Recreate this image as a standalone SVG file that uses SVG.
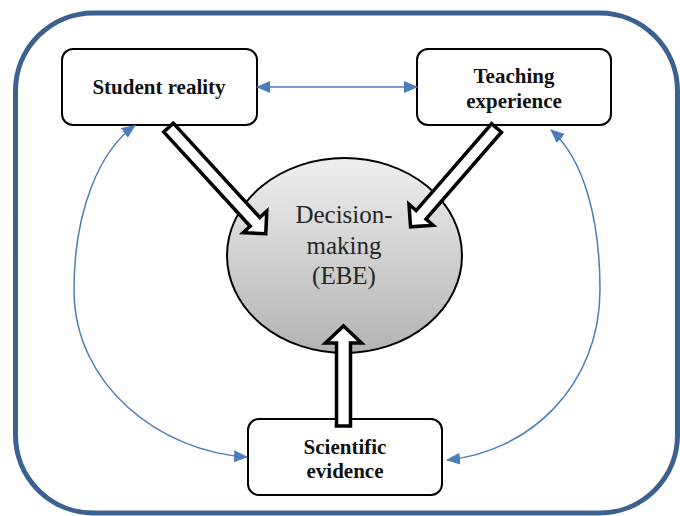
<svg xmlns="http://www.w3.org/2000/svg" width="680" height="516" viewBox="0 0 680 516">
  <style>
    .frame { fill: none; stroke: #3b6190; stroke-width: 5; }
    .box { fill: #ffffff; stroke: #000000; stroke-width: 2; }
    .label { font-family: "Liberation Serif", "Times New Roman", serif; font-weight: bold; font-size: 21px; fill: #111111; text-anchor: middle; }
    .core-label { font-family: "Liberation Serif", "Times New Roman", serif; font-size: 25px; fill: #262626; text-anchor: middle; }
    .link { fill: none; stroke: #4a7ebb; stroke-width: 1.5; }
    .block { fill: #ffffff; stroke: #000000; stroke-width: 3.5; stroke-linejoin: miter; stroke-miterlimit: 10; }
  </style>
  <defs>
    <linearGradient id="coreFill" x1="0" y1="0" x2="0" y2="1">
      <stop offset="0" stop-color="#efefef"/>
      <stop offset="1" stop-color="#b3b3b3"/>
    </linearGradient>
    <marker id="head" viewBox="0 0 14 12" refX="13" refY="6" markerWidth="14" markerHeight="12" markerUnits="userSpaceOnUse" orient="auto-start-reverse">
      <path d="M0,0 L14,6 L0,12 Z" fill="#4a7ebb"/>
    </marker>
  </defs>

  <!-- outer rounded frame -->
  <rect class="frame" x="15.5" y="13" width="662" height="500" rx="78" ry="78"/>

  <!-- central decision node -->
  <g id="decision-making">
    <ellipse cx="344.5" cy="255.5" rx="117.5" ry="97.5" fill="url(#coreFill)" stroke="#000000" stroke-width="2"/>
    <text class="core-label" x="344" y="223">Decision-</text>
    <text class="core-label" x="344" y="254">making</text>
    <text class="core-label" x="344" y="284">(EBE)</text>
  </g>

  <!-- source nodes -->
  <g id="student-reality">
    <rect class="box" x="62" y="49" width="195" height="76" rx="11" ry="11"/>
    <text class="label" x="159" y="94">Student reality</text>
  </g>
  <g id="teaching-experience">
    <rect class="box" x="417" y="49" width="194" height="76" rx="11" ry="11"/>
    <text class="label" x="514" y="83">Teaching</text>
    <text class="label" x="514" y="108">experience</text>
  </g>
  <g id="scientific-evidence">
    <rect class="box" x="248" y="419" width="194" height="76" rx="11" ry="11"/>
    <text class="label" x="345" y="454">Scientific</text>
    <text class="label" x="345" y="478">evidence</text>
  </g>

  <g id="connectors">
    <!-- two-way links between the three sources -->
    <path class="link" d="M257,87 L417,87" marker-start="url(#head)" marker-end="url(#head)"/>
    <path class="link" d="M135,125.5 C100,150 74,210 74,290 C74,385 160,452 247,457" marker-start="url(#head)" marker-end="url(#head)"/>
    <path class="link" d="M551,130 C585,160 600,222 600,290 C600,385 530,452 447,460" marker-start="url(#head)" marker-end="url(#head)"/>

    <!-- block arrows feeding the decision -->
    <polygon class="block" transform="translate(168.5,127.5) rotate(47.5)" points="0,-6.5 128,-6.5 128,-16 144,0 128,16 128,6.5 0,6.5"/>
    <polygon class="block" transform="translate(496.5,128) rotate(131)" points="0,-6.5 115,-6.5 115,-16 131,0 115,16 115,6.5 0,6.5"/>
    <polygon class="block" transform="translate(343.5,426) rotate(-90)" points="0,-7 83,-7 83,-18 100,0 83,18 83,7 0,7"/>
  </g>
</svg>
